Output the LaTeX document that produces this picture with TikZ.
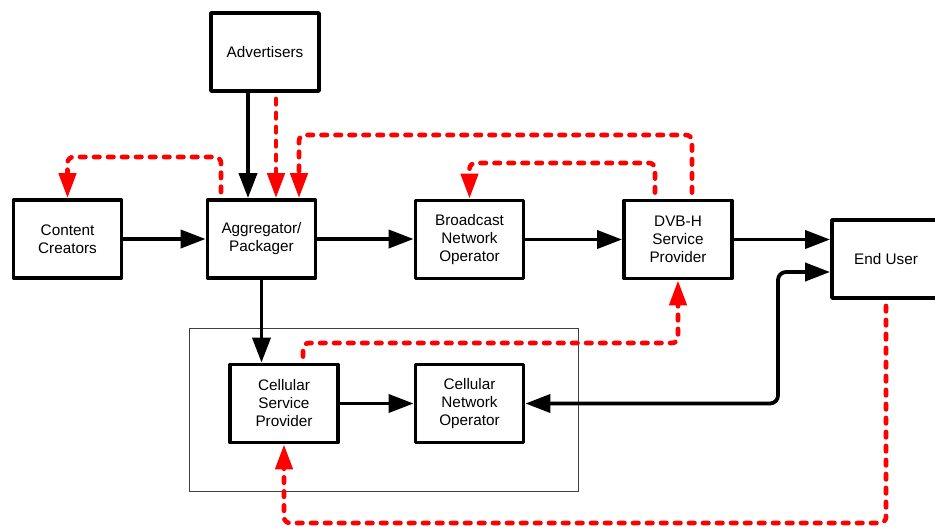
\documentclass[tikz,border=0pt]{standalone}
\usepackage{fontspec}
\setmainfont{Liberation Sans}
\usetikzlibrary{arrows.meta}
\begin{document}
\begin{tikzpicture}[x=1pt,y=-1pt,
  box/.style={draw, fill=white, line width=3.8pt, line join=round, minimum width=108pt, minimum height=78pt, align=center, inner sep=0pt, font=\fontsize{15.3}{18}\selectfont},
  grpbox/.style={draw=black!75, line width=1pt, minimum width=389pt, minimum height=163pt, inner sep=0pt},
  blk/.style={line width=3.8pt, -{Triangle[length=25pt,width=18pt]}},
  blkb/.style={line width=3.8pt, {Triangle[length=25pt,width=18pt]}-{Triangle[length=25pt,width=18pt]}, rounded corners=8pt},
  sig/.style={draw=red, line width=4.6pt, line cap=round, dash pattern=on 5.5pt off 8.5pt, rounded corners=6pt, shorten <=6pt, -{Triangle[length=25pt,width=17pt]}}
]
\useasboundingbox (0,0) rectangle (935,527);
\clip (0,0) rectangle (935,527);

\node[grpbox] (grp) at (383.5,409.5) {};

\node[box] (adv) at (265,52) {Advertisers};
\node[box] (cc) at (67.5,239) {Content\\Creators};
\node[box] (agg) at (261.5,239) {Aggregator/\\Packager};
\node[box] (bno) at (469.5,239.5) {Broadcast\\Network\\Operator};
\node[box] (dvb) at (678,239.5) {DVB-H\\Service\\Provider};
\node[box] (eu) at (886,259) {End User};
\node[box] (csp) at (284,403.5) {Cellular\\Service\\Provider};
\node[box] (cno) at (469.5,403.5) {Cellular\\Network\\Operator};

\coordinate (k1) at (778,403.5);
\coordinate (t1) at (0,135);
\coordinate (t2) at (0,163);
\coordinate (t3) at (0,157);
\coordinate (t4) at (0,343);
\coordinate (t5) at (0,523);

% black connectors
\draw[blk] (cc.east) -- (agg.west);
\draw[blk] (agg.east) -- (agg.east -| bno.west);
\draw[blk] (bno.east) -- (dvb.west);
\draw[blk] (dvb.east) -- (dvb.east -| eu.west);
\draw[blk] ([xshift=-17pt]adv.south) -- ([xshift=-17pt]adv.south |- agg.north);
\draw[blk] (agg.south) -- (agg.south |- csp.north);
\draw[blk] (csp.east) -- (cno.west);
\draw[blkb] (cno.east) -- (k1) |- ([yshift=-13pt]eu.west);

% red dashed connectors
\draw[sig] ([xshift=11pt]adv.south) -- ([xshift=11pt]adv.south |- agg.north);
\draw[sig] ([xshift=14pt]dvb.north) -- ([xshift=14pt]dvb.north |- t1) -| ([xshift=37.5pt]agg.north);
\draw[sig] ([xshift=-23pt]dvb.north) -- ([xshift=-23pt]dvb.north |- t2) -| (bno.north);
\draw[sig] ([xshift=-40.5pt]agg.north) -- ([xshift=-40.5pt]agg.north |- t3) -| (cc.north);
\draw[sig] ([xshift=19pt]csp.north) -- ([xshift=19pt]csp.north |- t4) -| (dvb.south);
\draw[sig] (eu.south) -- (eu.south |- t5) -| (csp.south);
\end{tikzpicture}
\end{document}
